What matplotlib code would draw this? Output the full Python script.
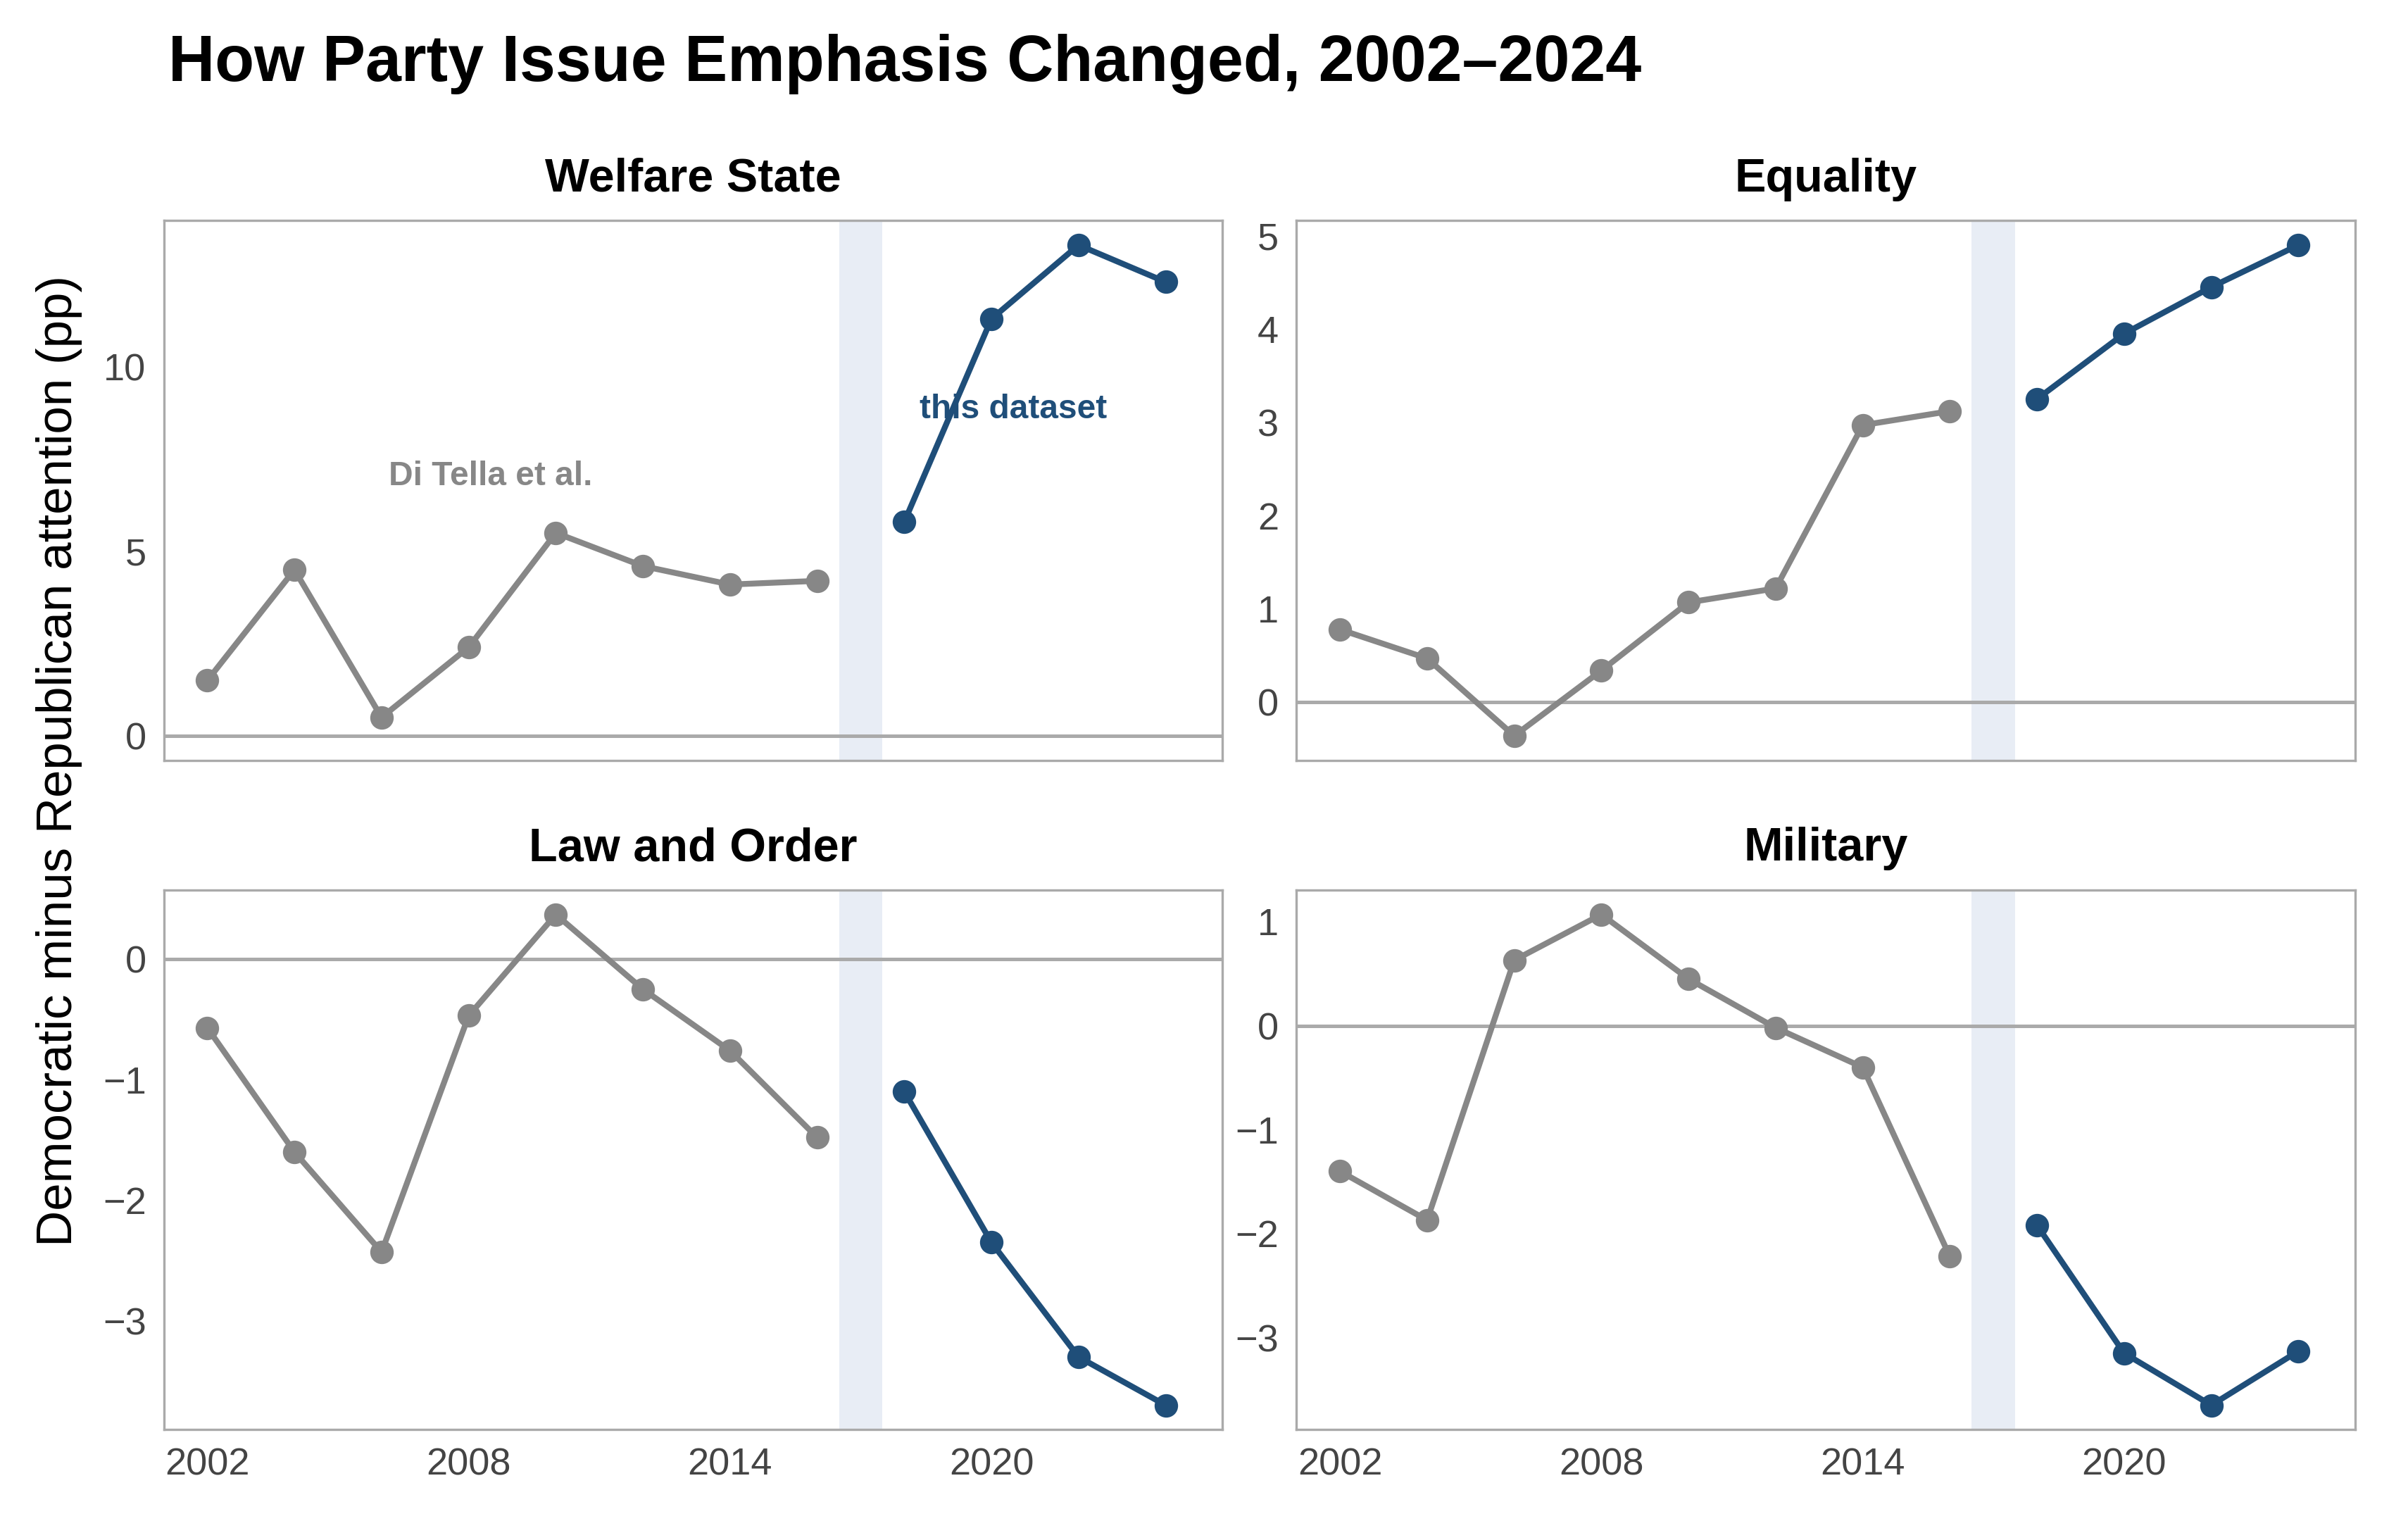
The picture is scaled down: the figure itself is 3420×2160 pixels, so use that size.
import matplotlib
matplotlib.use("Agg")
import matplotlib.pyplot as plt

plt.rcParams["font.family"] = ["Liberation Sans", "DejaVu Sans"]

years_old = [2002, 2004, 2006, 2008, 2010, 2012, 2014, 2016]
years_new = [2018, 2020, 2022, 2024]

titles = ["Welfare State", "Equality", "Law and Order", "Military"]
welfare_old = [1.5, 4.5, 0.5, 2.4, 5.5, 4.6, 4.1, 4.2]
welfare_new = [5.8, 11.3, 13.3, 12.3]
equality_old = [0.78, 0.47, -0.36, 0.34, 1.07, 1.22, 2.97, 3.12]
equality_new = [3.25, 3.95, 4.45, 4.9]
law_old = [-0.57, -1.6, -2.43, -0.47, 0.37, -0.25, -0.76, -1.48]
law_new = [-1.1, -2.35, -3.3, -3.7]
military_old = [-1.4, -1.87, 0.63, 1.07, 0.45, -0.02, -0.4, -2.22]
military_new = [-1.92, -3.15, -3.65, -3.13]

old_series = [welfare_old, equality_old, law_old, military_old]
new_series = [welfare_new, equality_new, law_new, military_new]
yticks = [[0, 5, 10], [0, 1, 2, 3, 4, 5], [-3, -2, -1, 0], [-3, -2, -1, 0, 1]]

GRAY = "#878787"
BLUE = "#1f4e79"

fig, axes = plt.subplots(2, 2, figsize=(11.4, 7.2), dpi=300, sharex=True)
for ax, title, old, new, yt in zip(axes.flat, titles, old_series, new_series, yticks):
    ax.axvspan(2016.5, 2017.5, color="#e8edf5", lw=0, zorder=0)
    ax.axhline(0, color="#aaaaaa", lw=1.2, zorder=1)
    ax.plot(years_old, old, color=GRAY, lw=2, marker="o", ms=7, zorder=3)
    ax.plot(years_new, new, color=BLUE, lw=2, marker="o", ms=7, zorder=3)
    ax.set_title(title, fontsize=16, fontweight="bold", pad=10)
    ax.set_yticks(yt)
    ax.set_xlim(2001, 2025.3)
    ax.set_xticks([2002, 2008, 2014, 2020])
    ax.tick_params(length=0, labelsize=13, labelcolor="#444444", pad=6)
    for s in ax.spines.values():
        s.set_color("#aaaaaa")

axes[0, 0].text(2008.5, 6.8, "Di Tella et al.", color=GRAY, fontsize=11.5,
                fontweight="bold", ha="center")
axes[0, 0].text(2020.5, 8.6, "this dataset", color=BLUE, fontsize=11.5,
                fontweight="bold", ha="center")

fig.suptitle("How Party Issue Emphasis Changed, 2002\u20132024", x=0.07, y=0.978,
             ha="left", fontsize=22, fontweight="bold")
fig.supylabel("Democratic minus Republican attention (pp)", fontsize=17, x=0.015)
fig.subplots_adjust(left=0.068, right=0.978, top=0.855, bottom=0.06, wspace=0.07, hspace=0.24)
fig.savefig("out.png")
